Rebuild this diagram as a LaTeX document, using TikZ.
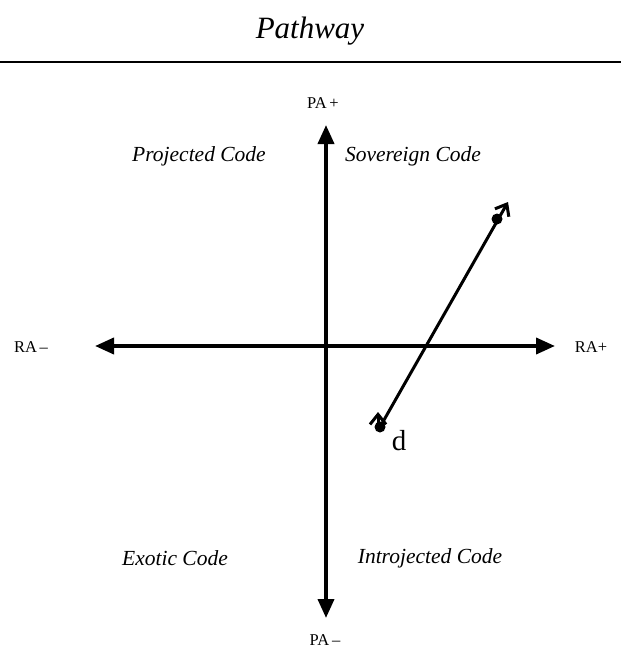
\documentclass[tikz,border=0pt]{standalone}
\usepackage{fontspec}
\setmainfont{Liberation Serif}
\usetikzlibrary{arrows.meta}

\begin{document}
\begin{tikzpicture}[x=1pt, y=-1pt,
  axis/.style={line width=3.8pt, {Triangle[length=19pt,width=16pt]}-{Triangle[length=19pt,width=16pt]}},
  pathline/.style={line width=3pt},
  barb/.style={-{Straight Barb[length=10pt,width=16pt]}},
  dot/.style={circle, fill, inner sep=0pt, minimum size=11pt},
  quad/.style={font=\fontsize{21.5}{24}\selectfont\itshape},
  pole/.style={font=\fontsize{16.5}{18}\selectfont}]
  \useasboundingbox (0,0) rectangle (621,650);
  % title and rule
  \node[font=\fontsize{31}{34}\selectfont\itshape] (title) at (310,31) {Pathway};
  \draw[line width=2.2pt] (0,62) -- (621,62);
  % axes
  \coordinate (left) at (95,346);
  \coordinate (right) at (555,346);
  \coordinate (top) at (326,125);
  \coordinate (bottom) at (326,618);
  \draw[axis] (left) -- (right);
  \draw[axis] (bottom) -- (top);
  % pole labels
  \node[pole] (pap) at (323,103) {PA\,+};
  \node[pole] (pam) at (325,640) {PA\,--};
  \node[pole] (ram) at (31,347) {RA\,--};
  \node[pole] (rap) at (591,347) {RA+};
  % quadrant labels
  \node[quad] (proj) at (199,156) {Projected Code};
  \node[quad] (sov) at (413,156) {Sovereign Code};
  \node[quad] (exo) at (175,558) {Exotic Code};
  \node[quad] (intro) at (430,558) {Introjected Code};
  % pathway
  \node[dot] (d) at (380,427) {};
  \node[dot] (e) at (497,219) {};
  \coordinate (etip) at (508,202);
  \coordinate (dtip) at (378,412);
  \node[font=\fontsize{29}{30}\selectfont] (dlab) at (399,441) {d};
  \draw[pathline, barb] (d.center) -- (etip);
  \draw[pathline, barb] ([yshift=-14pt]dtip) -- (dtip);
\end{tikzpicture}
\end{document}
